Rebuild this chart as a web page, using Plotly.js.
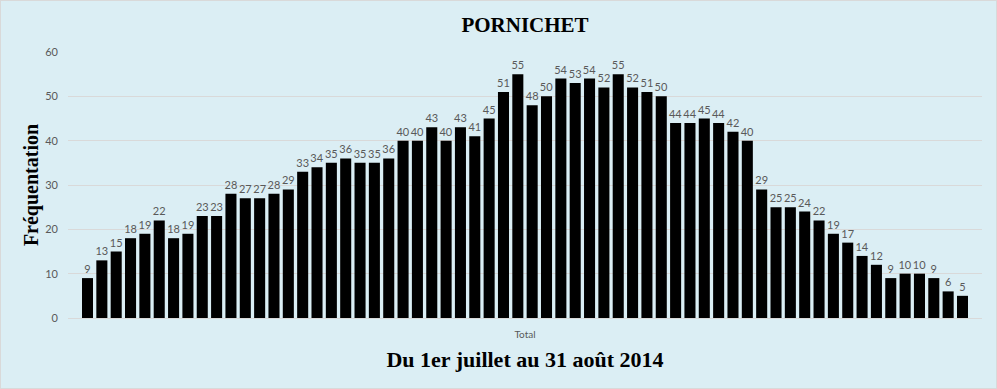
<!DOCTYPE html>
<html><head><meta charset="utf-8">
<script src="https://cdn.plot.ly/plotly-3.0.1.min.js"></script>
<style>html,body{margin:0;padding:0;background:#fff}#c{width:995px;height:387px;border:1px solid #D9D9D9}</style>
</head><body><div id="c"></div>
<script>
const category = ["Total"];
const values = [9,13,15,18,19,22,18,19,23,23,28,27,27,28,29,33,34,35,36,35,35,36,40,40,43,40,43,41,45,51,55,48,50,54,53,54,52,55,52,51,50,44,44,45,44,42,40,29,25,25,24,22,19,17,14,12,9,10,10,9,6,5];
const yTicks = [0,10,20,30,40,50,60];
const chartTitle = "PORNICHET";
const xTitle = "Du 1er juillet au 31 août 2014";
const yTitle = "Fréquentation";

const traces = values.map((v,i)=>({
  type:'bar', x:category, y:[v], name:'J'+(i+1),
  marker:{color:'#000000'},
  text:[String(v)], textposition:'outside', cliponaxis:false, constraintext:'none',
  textfont:{family:'Lato, Open Sans, sans-serif', size:11, color:'#595959'},
  hoverinfo:'y'
}));
const layout = {
  width:995, height:387,
  paper_bgcolor:'#DBEEF4', plot_bgcolor:'#DBEEF4',
  margin:{l:67,r:14,t:51,b:70},
  showlegend:false, barmode:'group', bargap:0.027, bargroupgap:0.23,
  title:{text:'<b>'+chartTitle+'</b>', x:0.5, xref:'paper', y:0.94, yanchor:'middle',
    font:{family:'Liberation Serif, Times New Roman, serif', size:21, color:'#000'}},
  xaxis:{showline:true, linecolor:'#D9D9D9', linewidth:1, ticks:'', showgrid:false, ticklabelstandoff:7,
    tickfont:{family:'Lato, Open Sans, sans-serif', size:10, color:'#595959'},
    title:{text:'<b>'+xTitle+'</b>', standoff:12, font:{family:'Liberation Serif, Times New Roman, serif', size:22, color:'#000'}}},
  yaxis:{range:[0,60], tickvals:yTicks, showgrid:true, gridcolor:'#D9D9D9', gridwidth:1, zeroline:false,
    showline:false, ticks:'', ticklabelstandoff:9,
    tickfont:{family:'Lato, Open Sans, sans-serif', size:11, color:'#595959'},
    title:{text:'<b>'+yTitle+'</b>', standoff:1, font:{family:'Liberation Serif, Times New Roman, serif', size:20, color:'#000'}}}
};
Plotly.newPlot('c', traces, layout, {displayModeBar:false, staticPlot:true});
</script></body></html>
